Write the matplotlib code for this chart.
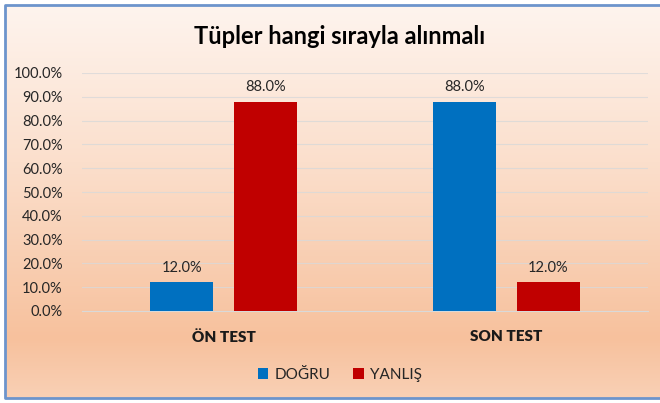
import numpy as np
import matplotlib.pyplot as plt
from matplotlib.colors import LinearSegmentedColormap
from matplotlib.ticker import PercentFormatter

plt.rcParams['font.family'] = ['Lato', 'DejaVu Sans']

categories = ['ÖN TEST', 'SON TEST']
series_names = ['DOĞRU', 'YANLIŞ']
dogru = [12.0, 88.0]
yanlis = [88.0, 12.0]
colours = ['#0070C0', '#C00000']

W, H = 660, 403
fig = plt.figure(figsize=(W / 100, H / 100), dpi=100)
fig.patch.set_facecolor('white')

# gradient background of the chart box, border on left/top/bottom only
bg = fig.add_axes([0, 0, 1, 1], zorder=0)
bg.set_xlim(0, W)
bg.set_ylim(H, 0)
bg.axis('off')
cmap = LinearSegmentedColormap.from_list(
    'peach', [(0, '#FEF4EE'), (0.4, '#FBDFCC'), (0.85, '#F7C19D'), (1, '#F9D0B5')])
grad = np.linspace(0, 1, 256).reshape(-1, 1)
bg.imshow(grad, cmap=cmap, aspect='auto', extent=(5, W, 398, 5), zorder=0)
bg.plot([W, 5, 5, W], [5, 5, 398, 398], color='#6C94CC', linewidth=2, zorder=1)

ax = fig.add_axes([82 / W, 1 - 311 / H, 566 / W, 238 / H], zorder=2)
ax.patch.set_alpha(0)

x = np.arange(len(categories))
w = 0.222
off = w / 2 + 0.036
b1 = ax.bar(x - off, dogru, w, color=colours[0], label=series_names[0], zorder=3)
b2 = ax.bar(x + off, yanlis, w, color=colours[1], label=series_names[1], zorder=3)
for bars in (b1, b2):
    for bar in bars:
        yval = bar.get_height()
        ax.text(bar.get_x() + bar.get_width() / 2, yval + 3, '{:.1f}%'.format(yval),
                ha='center', va='bottom', fontsize=10.5, color='#262626')

ax.set_xlim(-0.5, 1.5)
ax.set_ylim(0, 100)
ax.set_yticks(np.arange(0, 101, 10))
ax.yaxis.set_major_formatter(PercentFormatter(decimals=1))
ax.set_xticks(x)
ax.set_xticklabels(categories, fontsize=11, fontweight='heavy', color='#1A1A1A')
ax.tick_params(axis='y', length=0, labelsize=10.5, labelcolor='#262626', pad=14)
ax.tick_params(axis='x', length=0, pad=14)
ax.grid(axis='y', color='#D9D9D9', linewidth=0.8, alpha=0.8, zorder=0)
for s in ['top', 'right', 'left']:
    ax.spines[s].set_visible(False)
ax.spines['bottom'].set_color('#D9D9D9')

fig.text(340 / W, 1 - 36 / H, 'Tüpler hangi sırayla alınmalı', ha='center', va='center',
         fontsize=17, fontweight='bold', color='black')

fig.legend(handles=[b1, b2], labels=series_names, loc='center', bbox_to_anchor=(340 / W, 1 - 375 / H),
           ncol=2, frameon=False, fontsize=11, handlelength=0.7, handleheight=0.7,
           handletextpad=0.4, columnspacing=1.5, labelcolor='#262626')

fig.savefig('out.png', dpi=100)
